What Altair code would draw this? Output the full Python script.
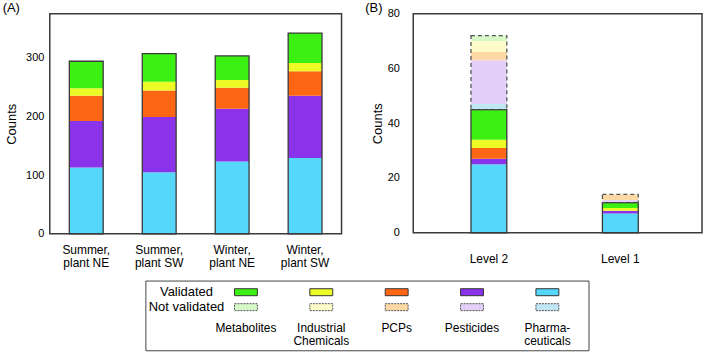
import altair as alt
import pandas as pd

# ---------------- data ----------------
samples = ["Summer, plant NE", "Summer, plant SW", "Winter, plant NE", "Winter, plant SW"]
classes = ["Pharmaceuticals", "Pesticides", "PCPs", "Industrial Chemicals", "Metabolites"]  # bottom -> top

a_pharma = [113, 105, 123, 129]
a_pest = [79, 94, 90, 106]
a_pcp = [43, 45, 36, 42]
a_ind = [13, 15, 13, 14]
a_met = [46, 48, 41, 51]

levels = ["Level 2", "Level 1"]
statuses = ["Validated", "Not validated"]
b_valid_pharma = [25, 7]
b_valid_pest = [2, 1]
b_valid_pcp = [4, 0]
b_valid_ind = [3, 1]
b_valid_met = [11, 2]
b_nv_pharma = [2, 0]
b_nv_pest = [16, 1]
b_nv_pcp = [3, 2]
b_nv_ind = [4, 0]
b_nv_met = [2, 0]

class_colors = ["#55d6fb", "#8b33ea", "#ff6614", "#ecfb26", "#3cf013"]
class_colors_nv = ["#c0e6f4", "#e4cff8", "#fbd8a4", "#fefcc9", "#d5f8c6"]

legend_order = ["Metabolites", "Industrial Chemicals", "PCPs", "Pesticides", "Pharmaceuticals"]
legend_names = ["Metabolites", "Industrial\nChemicals", "PCPs", "Pesticides", "Pharma-\nceuticals"]

# ---------------- tables ----------------
a_series = [a_pharma, a_pest, a_pcp, a_ind, a_met]
rows = []
for i, s in enumerate(samples):
    for k, c in enumerate(classes):
        rows.append({"sample": s, "cls": c, "value": a_series[k][i], "ord": k})
dfa = pd.DataFrame(rows)

b_series = {
    "Validated": [b_valid_pharma, b_valid_pest, b_valid_pcp, b_valid_ind, b_valid_met],
    "Not validated": [b_nv_pharma, b_nv_pest, b_nv_pcp, b_nv_ind, b_nv_met],
}
rows = []
for i, lv in enumerate(levels):
    for si, st in enumerate(statuses):
        for k, c in enumerate(classes):
            rows.append({"level": lv, "cls": c, "status": st, "key": c + "|" + st,
                         "value": b_series[st][k][i], "ord": si * 5 + k})
dfb = pd.DataFrame(rows)

key_domain = [c + "|Validated" for c in classes] + [c + "|Not validated" for c in classes]
key_range = class_colors + class_colors_nv

rows = []
for c in legend_order:
    for st in statuses:
        rows.append({"cls": c, "status": st, "key": c + "|" + st})
dfl = pd.DataFrame(rows)
dfn = pd.DataFrame({"cls": legend_order, "name": legend_names, "status": "Not validated"})
dfr = pd.DataFrame({"cls": ["", ""], "status": statuses})

FONT = "Liberation Sans"
FRAME = "#3a3a3a"

# ---------------- panel A ----------------
xa = alt.X("sample:N", sort=samples, title=None,
           axis=alt.Axis(labelAngle=0, labelPadding=11, labelLineHeight=13, labelFontSize=12,
                         labelExpr="[slice(datum.label, 0, indexof(datum.label, ',') + 1), slice(datum.label, indexof(datum.label, ',') + 2)]"))
ya_scale = alt.Scale(domain=[0, 375], nice=False)
ya_axis = alt.Axis(values=[0, 100, 200, 300], labelPadding=6, titlePadding=7, titleFontSize=13)

bars_a = alt.Chart(dfa).mark_bar(size=34).encode(
    x=xa,
    y=alt.Y("value:Q", stack="zero", scale=ya_scale, axis=ya_axis, title="Counts"),
    color=alt.Color("cls:N", scale=alt.Scale(domain=classes, range=class_colors), legend=None),
    order=alt.Order("ord:Q"),
)
outline_a = alt.Chart(dfa).mark_bar(size=34, filled=False, stroke=FRAME, strokeWidth=1.3).encode(
    x=xa,
    y=alt.Y("sum(value):Q", scale=ya_scale, axis=ya_axis, title="Counts"),
)
chart_a = alt.layer(bars_a, outline_a).properties(
    width=293, height=221,
    title=alt.TitleParams("(A)", anchor="start", fontSize=13, fontWeight="normal", offset=-1, dx=-3, font=FONT),
)

# ---------------- panel B ----------------
xb = alt.X("level:N", sort=levels, title=None,
           scale=alt.Scale(paddingInner=0.5, paddingOuter=0.3485, align=0.467),
           axis=alt.Axis(labelAngle=0, labelPadding=21, labelFontSize=12))
yb_scale = alt.Scale(domain=[0, 80], nice=False)
yb_axis = alt.Axis(values=[0, 20, 40, 60, 80], labelPadding=14, titlePadding=3, titleFontSize=13)

bars_b = alt.Chart(dfb).mark_bar(size=36).encode(
    x=xb,
    y=alt.Y("value:Q", stack="zero", scale=yb_scale, axis=yb_axis, title="Counts"),
    color=alt.Color("key:N", scale=alt.Scale(domain=key_domain, range=key_range), legend=None),
    order=alt.Order("ord:Q"),
)
agg_b = alt.Chart(dfb).transform_calculate(
    vval="datum.status == 'Validated' ? datum.value : 0"
).transform_aggregate(v="sum(vval)", total="sum(value)", groupby=["level"])
outline_bv = agg_b.mark_bar(size=36, filled=False, stroke=FRAME, strokeWidth=1.3).encode(
    x=xb, y=alt.Y("v:Q", scale=yb_scale, axis=yb_axis, title="Counts"),
)
outline_bn = agg_b.mark_bar(size=36, filled=False, stroke="#555555", strokeWidth=1.3,
                            strokeDash=[4, 3]).encode(
    x=xb, y=alt.Y("v:Q", scale=yb_scale, axis=yb_axis, title="Counts"), y2="total:Q",
)
chart_b = alt.layer(bars_b, outline_bv, outline_bn).properties(
    width=290, height=220,
    title=alt.TitleParams("(B)", anchor="start", fontSize=13, fontWeight="normal", offset=-7, dx=-6, font=FONT),
)

# ---------------- legend ----------------
xl = alt.X("cls:N", axis=None,
           scale=alt.Scale(type="point", domain=[""] + legend_order, range=[25.3, 403.7], padding=0))
yl = alt.Y("status:N", axis=None,
           scale=alt.Scale(type="point", domain=statuses, range=[11.7, 26.7], padding=0))

sw_v = alt.Chart(dfl).transform_filter("datum.status == 'Validated'").mark_rect(
    width=23, height=7, stroke="#333333", strokeWidth=1).encode(
    x=xl, y=yl,
    color=alt.Color("key:N", scale=alt.Scale(domain=key_domain, range=key_range), legend=None))
sw_n = alt.Chart(dfl).transform_filter("datum.status == 'Not validated'").mark_rect(
    width=23, height=7, stroke="#555555", strokeWidth=1, strokeDash=[2, 1]).encode(
    x=xl, y=yl,
    color=alt.Color("key:N", scale=alt.Scale(domain=key_domain, range=key_range), legend=None))
names = alt.Chart(dfn).mark_text(lineBreak="\n", fontSize=12, lineHeight=13, dy=21,
                                 font=FONT, color="black").encode(x=xl, y=yl, text="name:N")
rowlab = alt.Chart(dfr).mark_text(fontSize=13, dx=16, font=FONT, color="black").encode(
    x=xl, y=yl, text="status:N")
legend = alt.layer(sw_v, sw_n, names, rowlab).properties(
    width=445, height=70, view=alt.ViewBackground(stroke="#444444", strokeWidth=1))

spacer = alt.Chart(pd.DataFrame({"s": [0]})).mark_point(opacity=0, size=1).encode(
    x=alt.value(48), y=alt.value(35)).properties(
    width=96, height=70, view=alt.ViewBackground(strokeOpacity=0))

top_row = alt.hconcat(chart_a, chart_b, spacing=72, bounds="flush").resolve_scale(color="independent")
bottom_row = alt.hconcat(spacer, legend, spacing=0, bounds="flush").resolve_scale(color="independent")

chart = alt.vconcat(
    top_row, bottom_row, spacing=10,
).resolve_scale(
    color="independent"
).properties(
    padding={"left": 1, "top": 0, "right": 5, "bottom": 3}
).configure_view(
    stroke=FRAME, strokeWidth=1.5
).configure_axis(
    grid=False, ticks=False, domain=False, labelFont=FONT, titleFont=FONT,
    labelColor="black", titleColor="black", titleFontWeight="normal", labelFontSize=11,
).configure_title(font=FONT, color="black")

chart.save("out.html", embed_options={"renderer": "svg", "actions": False})
